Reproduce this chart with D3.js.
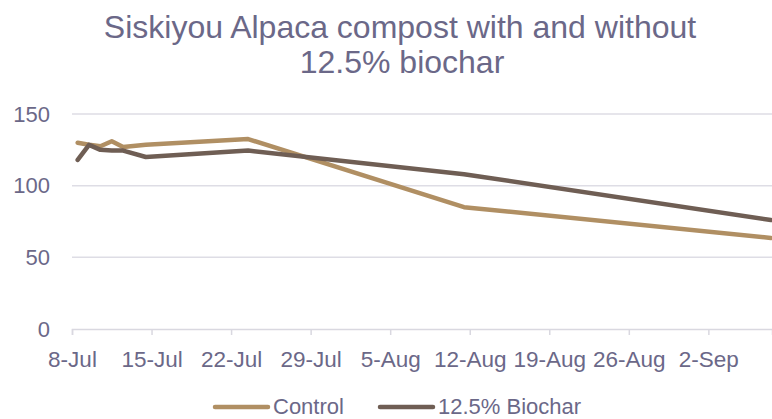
<!DOCTYPE html>
<html>
<head>
<meta charset="utf-8">
<script src="https://cdn.jsdelivr.net/npm/d3@7"></script>
<style>
  body { margin: 0; background: #fff; }
  svg { display: block; font-family: "Liberation Sans", Arial, sans-serif; }
</style>
</head>
<body>
<div id="chart"></div>
<script>
// data
const dates = ["2019-07-08", "2019-07-09", "2019-07-10", "2019-07-11", "2019-07-12",
  "2019-07-14", "2019-07-23", "2019-08-11", "2019-09-07"];
const control = [130, 128.5, 127.5, 131, 127, 128.5, 132.5, 85, 63.5];
const biochar = [118, 128.5, 125, 124.5, 124.5, 120, 124.5, 108, 76];
const seriesNames = ["Control", "12.5% Biochar"];
const colors = ["#b08f63", "#6f5e54"];
const yTicks = [0, 50, 100, 150];
const xTickDates = ["2019-07-08", "2019-07-15", "2019-07-22", "2019-07-29", "2019-08-05",
  "2019-08-12", "2019-08-19", "2019-08-26", "2019-09-02"];

const width = 772, height = 419;
const margin = { top: 114, right: 0, bottom: 90, left: 72 };
const textColor = "#6b6888";

const parse = d3.timeParse("%Y-%m-%d");
const DAY = 864e5;
const start = parse(dates[0]);

const svg = d3.select("#chart").append("svg")
  .attr("width", width)
  .attr("height", height);

const x = d3.scaleTime()
  .domain([start, new Date(+start + 61.6 * DAY)])
  .range([margin.left, width - margin.right]);

const y = d3.scaleLinear()
  .domain([0, 150])
  .range([height - margin.bottom, margin.top]);

// title
const title = svg.append("text")
  .attr("text-anchor", "middle")
  .attr("fill", textColor)
  .style("font-size", "32px");
title.append("tspan").attr("x", 400).attr("y", 38).text("Siskiyou Alpaca compost with and without");
title.append("tspan").attr("x", 402).attr("y", 73).text("12.5% biochar");

// gridlines
svg.append("g")
  .selectAll("line")
  .data(yTicks.filter(d => d > 0))
  .enter()
  .append("line")
  .attr("x1", margin.left)
  .attr("x2", width)
  .attr("y1", d => y(d))
  .attr("y2", d => y(d))
  .attr("stroke", "#dedde5")
  .attr("stroke-width", 1.5);

// y labels
svg.append("g")
  .selectAll("text")
  .data(yTicks)
  .enter()
  .append("text")
  .attr("x", 50)
  .attr("y", d => y(d))
  .attr("dy", "0.35em")
  .attr("text-anchor", "end")
  .attr("fill", textColor)
  .style("font-size", "22px")
  .text(d => d);

// x axis
const xAxis = d3.axisBottom(x)
  .tickValues(xTickDates.map(parse))
  .tickFormat(d3.timeFormat("%-d-%b"))
  .tickSize(6)
  .tickPadding(16);

const gx = svg.append("g")
  .attr("transform", `translate(0,${y(0)})`)
  .call(xAxis);
gx.select(".domain").attr("stroke", "#d9d8e0").attr("stroke-width", 1.5);
gx.selectAll(".tick line").attr("stroke", "#d9d8e0").attr("stroke-width", 1.5);
gx.selectAll(".tick text")
  .attr("fill", textColor)
  .style("font-size", "22.5px")
  .style("font-family", "'Liberation Sans', Arial, sans-serif");

// lines (points sit in the middle of their day)
const line = d3.line()
  .x(d => x(new Date(+d.date + DAY / 2)))
  .y(d => y(d.value));

[control, biochar].forEach(function (vals, i) {
  const pts = vals.map((v, j) => ({ date: parse(dates[j]), value: v }));
  svg.append("path")
    .datum(pts)
    .attr("fill", "none")
    .attr("stroke", colors[i])
    .attr("stroke-width", 4.5)
    .attr("stroke-linejoin", "round")
    .attr("stroke-linecap", "round")
    .attr("d", line);
});

// legend
const legendX = [215, 380];
const legend = svg.append("g");
seriesNames.forEach(function (name, i) {
  legend.append("line")
    .attr("x1", legendX[i])
    .attr("x2", legendX[i] + 53)
    .attr("y1", 407)
    .attr("y2", 407)
    .attr("stroke", colors[i])
    .attr("stroke-width", 4.5)
    .attr("stroke-linecap", "round");
  legend.append("text")
    .attr("x", legendX[i] + 58)
    .attr("y", 414)
    .attr("fill", textColor)
    .style("font-size", "22px")
    .text(name);
});
</script>
</body>
</html>
